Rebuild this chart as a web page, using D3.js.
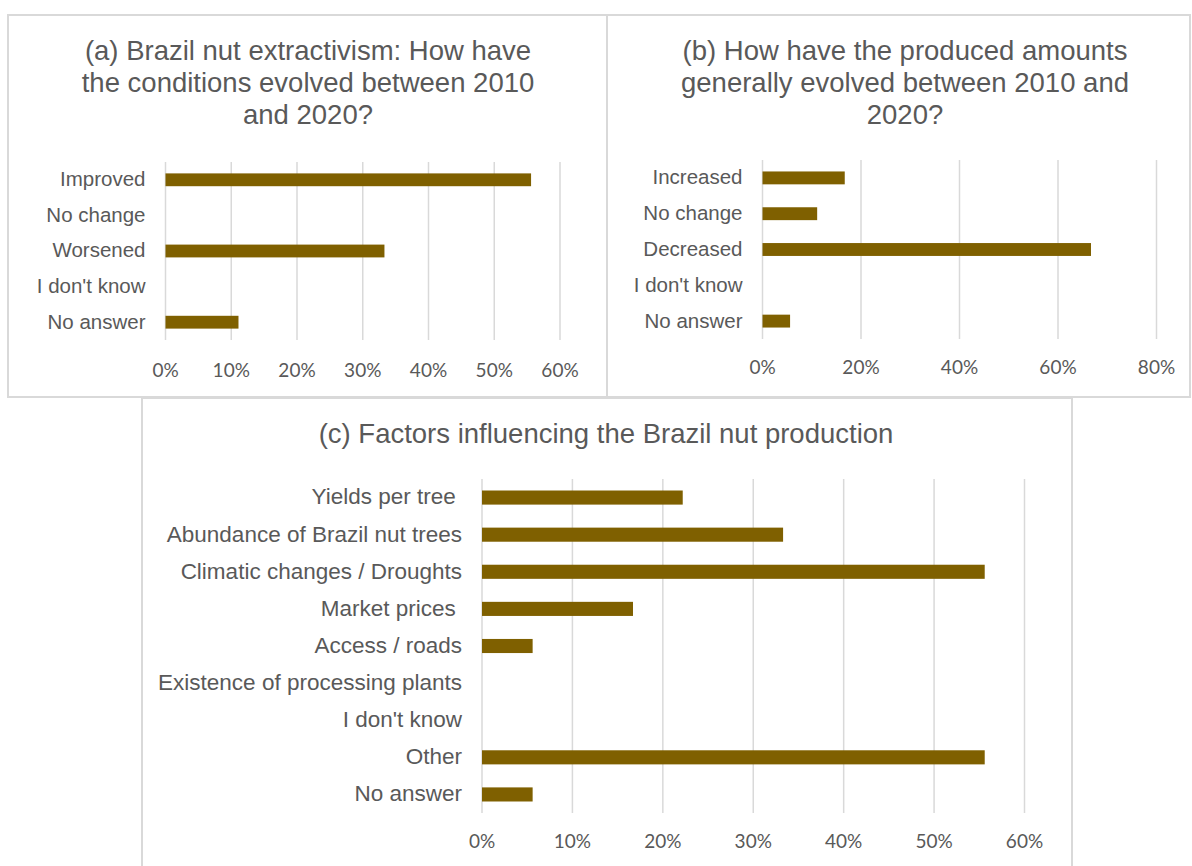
<!DOCTYPE html>
<html>
<head>
<meta charset="utf-8">
<script src="https://cdn.jsdelivr.net/npm/d3@7"></script>
<style>
  body { margin: 0; background: #fff; }
  svg text { font-family: "Liberation Sans", Arial, sans-serif; fill: #595959; white-space: pre; }
  svg text.tick { font-family: Lato, "Open Sans", sans-serif; }
</style>
</head>
<body>
<div id="chart"></div>
<script>
// --- data ---
const titleA = ["(a) Brazil nut extractivism: How have", "the conditions evolved between 2010", "and 2020?"];
const catsA = ["Improved", "No change", "Worsened", "I don't know", "No answer"];
const valsA = [0.556, 0, 0.333, 0, 0.111];
const ticksA = [0, 0.1, 0.2, 0.3, 0.4, 0.5, 0.6];

const titleB = ["(b) How have the produced amounts", "generally evolved between 2010 and", "2020?"];
const catsB = ["Increased", "No change", "Decreased", "I don't know", "No answer"];
const valsB = [0.167, 0.111, 0.667, 0, 0.056];
const ticksB = [0, 0.2, 0.4, 0.6, 0.8];

const titleC = ["(c) Factors influencing the Brazil nut production"];
const catsC = ["Yields per tree ", "Abundance of Brazil nut trees", "Climatic changes / Droughts", "Market prices ",
               "Access / roads", "Existence of processing plants", "I don't know", "Other", "No answer"];
const valsC = [0.222, 0.333, 0.556, 0.167, 0.056, 0, 0, 0.556, 0.056];
const ticksC = [0, 0.1, 0.2, 0.3, 0.4, 0.5, 0.6];

const BAR = "#7f6000";
const GRID = "#d9d9d9";

const svg = d3.select("#chart").append("svg")
    .attr("width", 1192)
    .attr("height", 866);

function drawPanel(p) {
    const g = svg.append("g");
    const rows = p.cats.map((c, i) => ({ cat: c, val: p.vals[i] }));

    // panel frame
    g.append("rect")
        .attr("x", p.box[0]).attr("y", p.box[1])
        .attr("width", p.box[2] - p.box[0]).attr("height", p.box[3] - p.box[1])
        .attr("fill", "none").attr("stroke", GRID).attr("stroke-width", 2);

    // title
    g.selectAll(".title").data(p.title).enter().append("text")
        .attr("x", p.titleX)
        .attr("y", (d, i) => p.titleY + i * 32)
        .attr("text-anchor", "middle")
        .attr("dominant-baseline", "middle")
        .style("font-size", p.titleSize + "px")
        .text(d => d);

    const x = d3.scaleLinear().domain([0, p.max]).range(p.xRange);
    const y = d3.scaleBand().domain(p.cats).range(p.yRange)
        .paddingInner(p.pad).paddingOuter(p.pad / 2);

    // vertical gridlines
    g.selectAll(".grid").data(p.ticks).enter().append("line")
        .attr("x1", d => x(d)).attr("x2", d => x(d))
        .attr("y1", p.yRange[0]).attr("y2", p.yRange[1])
        .attr("stroke", GRID).attr("stroke-width", 1.5);

    // bars (zero values draw nothing)
    g.selectAll(".bar").data(rows.filter(d => d.val > 0)).enter().append("rect")
        .attr("x", x(0))
        .attr("y", d => y(d.cat))
        .attr("width", d => x(d.val) - x(0))
        .attr("height", y.bandwidth())
        .attr("fill", BAR);

    // category labels
    g.selectAll(".cat").data(p.cats).enter().append("text")
        .attr("x", x(0) - 20)
        .attr("y", d => y(d) + y.bandwidth() / 2 + 1)
        .attr("text-anchor", "end")
        .attr("dominant-baseline", "middle")
        .style("font-size", p.catSize + "px")
        .text(d => d);

    // tick labels
    g.selectAll(".tick").data(p.ticks).enter().append("text")
        .attr("class", "tick")
        .attr("x", d => x(d))
        .attr("y", p.tickY)
        .attr("text-anchor", "middle")
        .attr("dominant-baseline", "middle")
        .style("font-size", p.tickSize + "px")
        .text(d => d3.format(".0%")(d));
}

drawPanel({
    box: [8, 15, 607, 397], title: titleA, titleX: 308, titleY: 53, titleSize: 27.5,
    cats: catsA, vals: valsA, ticks: ticksA, max: 0.6,
    xRange: [165.5, 560], yRange: [162, 340], pad: 0.64,
    catSize: 20.5, tickSize: 19, tickY: 372
});
drawPanel({
    box: [607, 15, 1190, 397], title: titleB, titleX: 905, titleY: 53, titleSize: 27.5,
    cats: catsB, vals: valsB, ticks: ticksB, max: 0.8,
    xRange: [762.5, 1156.5], yRange: [160, 339], pad: 0.64,
    catSize: 20.5, tickSize: 19, tickY: 369
});
drawPanel({
    box: [142, 398, 1072, 880], title: titleC, titleX: 606, titleY: 436, titleSize: 27.5,
    cats: catsC, vals: valsC, ticks: ticksC, max: 0.6,
    xRange: [482, 1024.5], yRange: [479, 813], pad: 0.62,
    catSize: 22.5, tickSize: 19, tickY: 843
});
</script>
</body>
</html>
